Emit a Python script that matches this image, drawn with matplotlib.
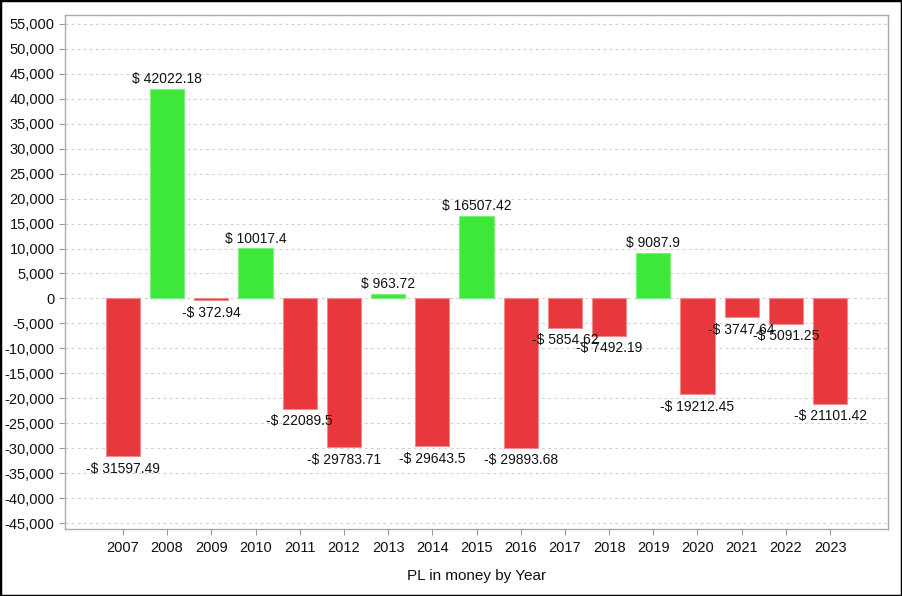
import numpy as np
import matplotlib.pyplot as plt
from matplotlib.patches import Rectangle
from matplotlib.ticker import FuncFormatter

plt.rcParams['font.family'] = ['Liberation Sans', 'DejaVu Sans']

years = ['2007', '2008', '2009', '2010', '2011', '2012', '2013', '2014', '2015',
         '2016', '2017', '2018', '2019', '2020', '2021', '2022', '2023']
pl = [-31597.49, 42022.18, -372.94, 10017.4, -22089.5, -29783.71, 963.72, -29643.5,
      16507.42, -29893.68, -5854.62, -7492.19, 9087.9, -19212.45, -3747.64, -5091.25,
      -21101.42]
labels = ['-$ 31597.49', '$ 42022.18', '-$ 372.94', '$ 10017.4', '-$ 22089.5',
          '-$ 29783.71', '$ 963.72', '-$ 29643.5', '$ 16507.42', '-$ 29893.68',
          '-$ 5854.62', '-$ 7492.19', '$ 9087.9', '-$ 19212.45', '-$ 3747.64',
          '-$ 5091.25', '-$ 21101.42']

red = '#e8383d'
green = '#3ee83a'

fig = plt.figure(figsize=(9.02, 5.96), dpi=100)
ax = fig.add_axes([65/902, 1-529/596, (888-65)/902, (529-15)/596])

x = np.arange(len(years))
cols = [green if v >= 0 else red for v in pl]
edges = ['#7cf07a' if v >= 0 else '#f08a8c' for v in pl]
ax.bar(x, pl, width=0.77, color=cols, edgecolor=edges, linewidth=0.8, zorder=2)

for xi, v, s in zip(x, pl, labels):
    if v >= 0:
        ax.annotate(s, (xi, v), xytext=(0, 2), textcoords='offset points',
                    ha='center', va='bottom', fontsize=10, color='#111111')
    else:
        ax.annotate(s, (xi, v), xytext=(0, -4), textcoords='offset points',
                    ha='center', va='top', fontsize=10, color='#111111')

ax.set_xlim(-1.31, len(years) - 1 + 1.31)
ax.set_ylim(-46200, 56800)
ax.set_yticks(np.arange(-45000, 55001, 5000))
ax.yaxis.set_major_formatter(FuncFormatter(lambda v, p: f'{int(v):,}'))
ax.set_xticks(x)
ax.set_xticklabels(years)
ax.tick_params(axis='both', labelsize=10.5, colors='#999999', labelcolor='#111111',
               length=4, width=0.8)
ax.tick_params(axis='x', pad=5)
ax.grid(axis='y', color='#d0d0d0', linestyle=(0, (2.5, 3)), linewidth=0.8, zorder=0)
for sp in ax.spines.values():
    sp.set_color('#aaaaaa')
    sp.set_linewidth(1.0)

ax.set_xlabel('PL in money by Year', fontsize=11, color='#111111', labelpad=10)

fig.patches.append(Rectangle((0, 0), 1, 1, transform=fig.transFigure, fill=False,
                             edgecolor='black', linewidth=2.5, zorder=10))

fig.savefig('out.png', dpi=100)
